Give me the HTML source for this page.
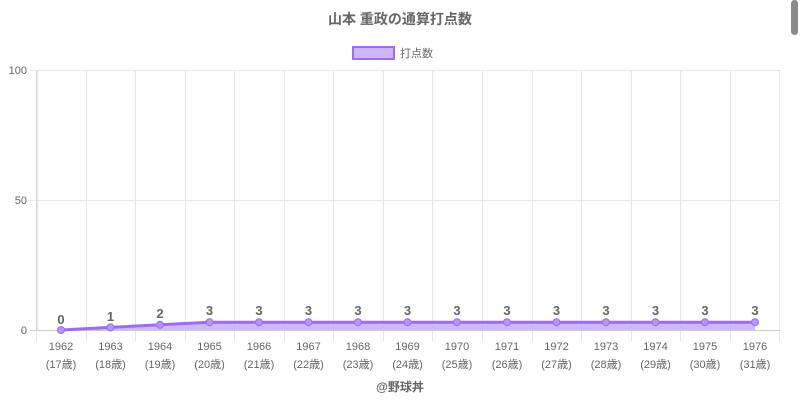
<!DOCTYPE html>
<html><head><meta charset="utf-8"><style>
body{margin:0;background:#fff;width:800px;height:400px;overflow:hidden;position:relative}
svg{position:absolute;left:0;top:0}
</style></head><body>
<svg width="800" height="400" xmlns="http://www.w3.org/2000/svg" font-family="'Liberation Sans','Noto Sans CJK JP',sans-serif">
<rect x="791" y="0" width="7" height="35" rx="3.5" fill="#8a8a8a"/>
<text x="400" y="24" text-anchor="middle" font-size="14" font-weight="bold" fill="#666">山本 重政の通算打点数</text>
<rect x="353" y="47" width="41" height="12" fill="#cdb6fb" stroke="#9b6cf5" stroke-width="2"/>
<text x="400" y="57" font-size="11" fill="#666">打点数</text>
<g stroke="#e6e6e6" stroke-width="1">
<line x1="37" y1="70.5" x2="780" y2="70.5"/>
<line x1="37" y1="200.5" x2="780" y2="200.5"/>
<script>
</script>
</g>
<g id="grid" stroke="#e6e6e6"></g>
<g stroke="#e6e6e6">
<line x1="36.5" y1="70" x2="36.5" y2="341"/><line x1="86.5" y1="70" x2="86.5" y2="341"/><line x1="135.5" y1="70" x2="135.5" y2="341"/><line x1="185.5" y1="70" x2="185.5" y2="341"/><line x1="234.5" y1="70" x2="234.5" y2="341"/><line x1="284.5" y1="70" x2="284.5" y2="341"/><line x1="333.5" y1="70" x2="333.5" y2="341"/><line x1="383.5" y1="70" x2="383.5" y2="341"/><line x1="432.5" y1="70" x2="432.5" y2="341"/><line x1="482.5" y1="70" x2="482.5" y2="341"/><line x1="532.5" y1="70" x2="532.5" y2="341"/><line x1="581.5" y1="70" x2="581.5" y2="341"/><line x1="631.5" y1="70" x2="631.5" y2="341"/><line x1="680.5" y1="70" x2="680.5" y2="341"/><line x1="730.5" y1="70" x2="730.5" y2="341"/><line x1="779.5" y1="70" x2="779.5" y2="341"/>
<line x1="30" y1="70.5" x2="37" y2="70.5"/><line x1="30" y1="200.5" x2="37" y2="200.5"/>
</g>
<line x1="37" y1="70" x2="37" y2="330" stroke="#ccc"/>
<line x1="30" y1="330.5" x2="780" y2="330.5" stroke="#ccc"/>
<g font-size="11" fill="#666" text-anchor="end"><text x="27" y="74">100</text><text x="27" y="204">50</text><text x="27" y="334">0</text></g>
<polygon points="61,330 110.5,327.4 160,324.8 209.5,322.2 755,322.2 755,330" fill="#c9b2fa" opacity="0.9"/>
<polyline points="61,330 110.5,327.4 160,324.8 209.5,322.2 755,322.2" fill="none" stroke="#9b6cf5" stroke-width="3"/>
<g fill="#b496f8" stroke="#9b6cf5" stroke-width="1">
<circle cx="61" cy="330" r="3.5"/><circle cx="110.5" cy="327.4" r="3.5"/><circle cx="160" cy="324.8" r="3.5"/><circle cx="209.5" cy="322.2" r="3.5"/><circle cx="259" cy="322.2" r="3.5"/><circle cx="308.5" cy="322.2" r="3.5"/><circle cx="358" cy="322.2" r="3.5"/><circle cx="407.5" cy="322.2" r="3.5"/><circle cx="457" cy="322.2" r="3.5"/><circle cx="507" cy="322.2" r="3.5"/><circle cx="556.5" cy="322.2" r="3.5"/><circle cx="606" cy="322.2" r="3.5"/><circle cx="655.5" cy="322.2" r="3.5"/><circle cx="705" cy="322.2" r="3.5"/><circle cx="755" cy="322.2" r="3.5"/>
</g>
<g font-size="13" font-weight="bold" fill="#666" text-anchor="middle">
<text x="61" y="324">0</text><text x="110.5" y="321">1</text><text x="160" y="318">2</text><text x="209.5" y="315">3</text><text x="259" y="315">3</text><text x="308.5" y="315">3</text><text x="358" y="315">3</text><text x="407.5" y="315">3</text><text x="457" y="315">3</text><text x="507" y="315">3</text><text x="556.5" y="315">3</text><text x="606" y="315">3</text><text x="655.5" y="315">3</text><text x="705" y="315">3</text><text x="755" y="315">3</text>
</g>
<g font-size="11" fill="#666" text-anchor="middle">
<text x="61" y="350">1962</text><text x="61" y="368">(17歳)</text>
<text x="110.5" y="350">1963</text><text x="110.5" y="368">(18歳)</text>
<text x="160" y="350">1964</text><text x="160" y="368">(19歳)</text>
<text x="209.5" y="350">1965</text><text x="209.5" y="368">(20歳)</text>
<text x="259" y="350">1966</text><text x="259" y="368">(21歳)</text>
<text x="308.5" y="350">1967</text><text x="308.5" y="368">(22歳)</text>
<text x="358" y="350">1968</text><text x="358" y="368">(23歳)</text>
<text x="407.5" y="350">1969</text><text x="407.5" y="368">(24歳)</text>
<text x="457" y="350">1970</text><text x="457" y="368">(25歳)</text>
<text x="507" y="350">1971</text><text x="507" y="368">(26歳)</text>
<text x="556.5" y="350">1972</text><text x="556.5" y="368">(27歳)</text>
<text x="606" y="350">1973</text><text x="606" y="368">(28歳)</text>
<text x="655.5" y="350">1974</text><text x="655.5" y="368">(29歳)</text>
<text x="705" y="350">1975</text><text x="705" y="368">(30歳)</text>
<text x="755" y="350">1976</text><text x="755" y="368">(31歳)</text>
</g>
<text x="400" y="391" text-anchor="middle" font-size="12" font-weight="bold" fill="#666">@野球丼</text>
</svg>
</body></html>
